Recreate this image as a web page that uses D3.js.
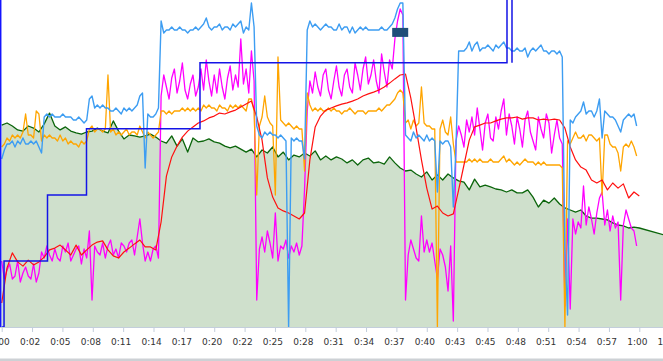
<!DOCTYPE html>
<html><head><meta charset="utf-8">
<script src="https://cdn.jsdelivr.net/npm/d3@7"></script>
<style>html,body{margin:0;padding:0;background:#fff;overflow:hidden}</style>
</head><body><svg id="c" width="663" height="361"></svg>
<script>
// ---- data ----
const tickLabels = ["0:00","0:02","0:05","0:08","0:11","0:14","0:17","0:20","0:22","0:25","0:28","0:31","0:34","0:37","0:40","0:43","0:45","0:48","0:51","0:54","0:57","1:00","1:02"];
const fineStep = 0.25;   // seconds between samples (light blue, magenta, orange)
const coarseStep = 0.5;  // seconds between samples (red, green)

const lightBlue = [
56,59,61,61,62,60,62,61,63,61, 61,62,61,62,60,58,70,71,70,71,
70,70,70,71,70,70,70,69,69,70, 69,68,69,76,77,73,74,73,74,73,
73,72,72,73,72,71,73,72,73,72, 73,74,77,78,53,71,70,70,71,73,
102,98,99,99,100,99,99,100,99,99, 98,99,99,100,99,100,101,103,100,99,
100,100,101,99,100,100,99,101,100,101, 102,98,100,99,108,100,67,64,63,65,
64,65,64,64,63,64,63,62,0,63, 62,63,62,62,56,99,102,100,101,100,
99,100,101,100,100,99,99,101,99,100, 100,98,100,98,99,100,99,100,99,99,
99,99,99,100,99,99,100,101,103,106, 108,108,64,63,62,65,63,64,63,62,
64,62,63,62,45,62,61,62,62,60, 40,60,92,92,92,93,95,92,94,95,
92,93,93,94,93,92,94,93,94,95, 93,93,92,92,93,92,92,93,90,92,
93,92,93,94,92,92,91,92,92,91, 92,90,26,4,69,68,70,71,72,75,
71,72,72,70,72,76,63,72,71,70, 70,69,67,65,69,70,71,70,71,67];

const magenta = [
22,16,19,21,16,17,22,15,18,20, 17,16,21,15,18,25,23,27,24,22,
26,23,22,27,25,28,22,24,26,27, 21,26,23,32,9,27,25,24,28,23,
27,29,24,26,23,28,27,25,28,29, 24,30,36,28,22,25,22,26,27,23,
77,84,80,76,83,86,78,82,88,79, 76,81,84,77,80,86,79,89,82,77,
84,78,86,80,76,83,87,79,84,80, 96,81,86,78,92,82,9,26,30,25,
32,28,23,38,22,27,26,29,23,27, 25,28,24,27,46,72,82,78,85,80,
77,84,86,79,76,82,87,80,77,84, 86,80,78,88,84,79,86,90,81,84,
89,82,78,91,85,80,89,86,96,102, 106,104,9,24,29,26,23,22,37,25,
29,25,28,22,16,26,24,20,12,27, 2,62,67,64,60,69,65,70,64,73,
66,59,68,71,63,62,70,66,72,76, 64,71,67,61,70,66,60,69,72,65,
62,59,70,66,63,71,68,58,64,69, 63,61,7,36,6,36,31,35,33,47,
34,40,36,31,38,43,45,34,39,32, 37,33,35,9,34,39,36,33,32,27];

const orange = [
60,61,63,62,64,63,64,63,65,71, 64,64,63,72,71,62,64,63,64,63,
63,62,64,62,63,61,62,61,61,60, 62,61,62,66,67,65,66,66,65,66,
84,65,66,64,65,64,65,66,64,65, 65,64,67,65,63,65,64,63,64,65,
72,72,71,72,71,72,72,72,73,72, 73,72,73,72,73,72,74,73,74,73,
73,72,74,73,73,72,74,73,74,73, 74,73,72,76,76,72,44,67,70,77,
70,68,67,44,90,69,68,67,68,67, 66,67,66,66,52,78,74,72,73,72,
73,72,72,73,72,73,72,72,71,72, 72,73,72,71,72,72,72,71,72,72,
72,72,73,72,73,74,74,75,76,78, 79,78,68,69,66,69,67,68,80,68,
67,67,66,66,0,66,69,65,64,70, 61,55,55,55,55,55,56,55,56,55,
56,55,55,55,56,55,55,55,56,57, 55,56,55,54,55,54,55,56,55,55,
55,54,55,54,55,54,54,54,54,54, 54,53,0,62,61,63,65,63,63,64,
62,64,64,63,62,63,44,64,64,61, 60,60,58,52,60,61,60,62,60,57];

const red = [
8,19.7,24.7,21.7,20.3,22.3,20.7,21.7,23.3,25.7,
26.3,27.3,25.7,24,27.3,24,25.7,27.3,28.3,28.7,
25.7,23.7,23,25,26.3,27.7,29,26.7,26.7,25.7,
35,50.3,56.7,60.3,63.3,65.3,66.7,68,68.7,69.7,
70.3,71.3,71,71.7,72.3,73.3,74.3,75.3,70,62.3,
49.7,43.3,39.7,38.7,38,37,36,38,55.7,66.7,
70.3,72.3,73,73.7,74.3,74.7,75.3,76,77,77.7,
78.3,79,80,81.3,82.7,84,84.3,76.3,66.3,55.7,
46.3,39.3,40.3,38,37,37.7,45.7,54,62.3,66.7,
67.3,68,68,68.7,69.3,69.7,69.7,70,69.3,69.7,
69.7,69,69.3,69,69.3,69,66.3,60,55.7,53.3,
52.3,49,48,49,45.7,48,46.3,47.7,43,45,
43.7];

const green = [
67.3,68,67,65.7,65.3,67,66.3,65,67.7,71.3,
67,65.7,66.7,65.3,64.7,64.3,65,65.3,66.3,65.3,
64.7,68.7,65.3,62.7,64,63.7,63.3,63.7,64.3,63.3,
62,61.3,63.7,60.3,62.7,58.3,63,61.7,62,62.7,
61.7,61.3,60.3,59.7,60.3,59.3,58.3,59.3,56.7,59,
58,60,56.7,58.3,55.7,57.3,56.7,58,57,58.7,
55.7,57,55.7,56.7,56,54.7,55.7,54,55.7,56.3,
54.7,55,54.3,56.7,54.7,53,52,52.3,51,50,
51.7,49,50.7,49,51,49.7,48.7,48.3,45.7,49.3,
46.7,47.3,46.7,46,45.7,45,45.7,44.7,44.7,45.7,
43.3,40,42.3,41.3,43,41,39.7,39,38.3,39,
37,36.3,36.3,36,35.7,34.7,34,33.7,33,33.3,
33];
const greenTail = [62.3, 30.7];   // [seconds, value] last logged point

// gear-like step series: [seconds, level]
const gearSteps = [[0,0],[0.22,1],[4.31,2],[7.98,3],[18.66,4],[47.55,6],[48.02,4]];
// event marker: [seconds, value]
const markerEvents = [[37.5, 98.2]];

// ---- chart ----
const W = 663, H = 361, bottom = 327;
const svg = d3.select("#c");
const x = d3.scaleLinear().domain([0, 60]).range([1.7, 639.3]);
const y = d3.scaleLinear().domain([0, 109]).range([bottom, 0]);
const yGear = d3.scaleLinear().domain([0, 4.95]).range([bottom, 0]);

svg.append("defs").append("clipPath").attr("id", "clip")
  .append("rect").attr("x", 0).attr("y", 0).attr("width", W).attr("height", bottom);

const toPts = (arr, step) => arr.map((v, i) => [i * step, v]);
const greenPts = toPts(green, coarseStep).concat([greenTail]);

const plot = svg.append("g").attr("clip-path", "url(#clip)");

plot.append("path").datum(greenPts)
  .attr("fill", "#cfe0cc")
  .attr("d", d3.area().x(d => x(d[0])).y0(y(0)).y1(d => y(d[1])));

const line = d3.line().x(d => x(d[0])).y(d => y(d[1]));
function drawLine(pts, color, w) {
  plot.append("path").datum(pts).attr("fill", "none").attr("stroke", color)
    .attr("stroke-width", w).attr("stroke-linejoin", "round").attr("d", line);
}
drawLine(greenPts, "#0b650b", 1.3);
drawLine(toPts(magenta, fineStep), "#ff00ff", 1.3);
drawLine(toPts(orange, fineStep), "#ffa500", 1.3);
drawLine(toPts(red, coarseStep), "#ff1010", 1.2);
drawLine(toPts(lightBlue, fineStep), "#3d9df2", 1.4);

plot.append("path").datum(gearSteps).attr("fill", "none").attr("stroke", "#1414e6")
  .attr("stroke-width", 1.5)
  .attr("d", d3.line().curve(d3.curveStepAfter).x(d => x(d[0])).y(d => yGear(d[1])));

plot.selectAll("rect.marker").data(markerEvents).enter().append("rect")
  .attr("class", "marker")
  .attr("x", d => x(d[0]) - 8).attr("y", d => y(d[1]) - 4.5)
  .attr("width", 16).attr("height", 9).attr("fill", "#1f4e79");

// left axis line (blue)
svg.append("line").attr("x1", 0.7).attr("x2", 0.7).attr("y1", 0).attr("y2", bottom)
  .attr("stroke", "#1414ff").attr("stroke-width", 1.5);

// bottom axis
svg.append("line").attr("x1", 0).attr("x2", W).attr("y1", bottom + 0.5).attr("y2", bottom + 0.5)
  .attr("stroke", "#c3cedb").attr("stroke-width", 1);
const tickVals = tickLabels.map((_, i) => i * 60 / 21);
const ax = svg.append("g").attr("transform", `translate(0,${bottom})`)
  .call(d3.axisBottom(x).tickValues(tickVals).tickFormat((d, i) => tickLabels[i]).tickSize(5).tickSizeOuter(0));
ax.select(".domain").remove();
ax.selectAll(".tick line").attr("stroke", "#c3cedb");
ax.selectAll(".tick text").attr("y", 12).attr("dx", -2.5)
  .attr("fill", "#333").style("font-family", "'DejaVu Sans', Verdana, sans-serif").style("font-size", "9px");

// bottom border strip
svg.append("rect").attr("x", 0).attr("y", 358.5).attr("width", W).attr("height", 2.5).attr("fill", "#cdd1d5");
</script>
</body></html>
